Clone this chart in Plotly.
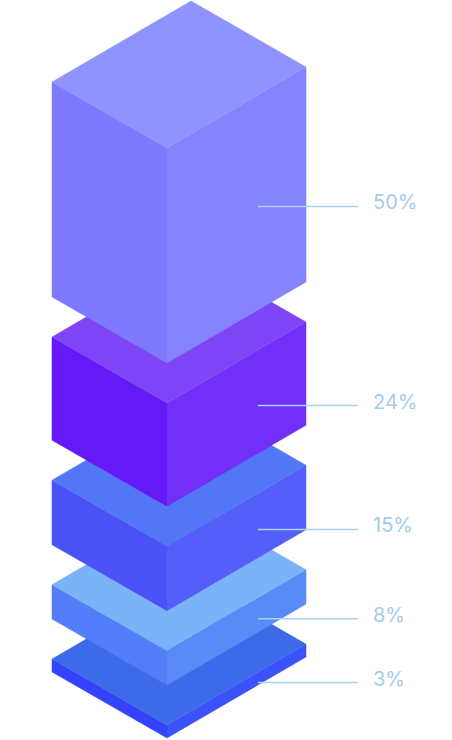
import plotly.graph_objects as go

# data, bottom block first
labels = ["3%", "8%", "15%", "24%", "50%"]
values = [3, 8, 15, 24, 50]

top_colors = ["#3d6ae9", "#7ab3f8", "#5276f6", "#7d45f6", "#8f93fe"]
left_colors = ["#3442fb", "#537df9", "#4a52f6", "#6419f6", "#7e79fe"]
right_colors = ["#3b51fa", "#5a8af6", "#535ff8", "#712ff8", "#8683fe"]

# isometric geometry (pixels)
W, H = 452, 740
x_front = 167
left_dx, left_dy = -115, -66
right_dx, right_dy = 139, -81
scale = 4.3      # px per percent
gap = 40
base = 738
line_x0, line_x1 = 258, 358
label_x = 371

fig = go.Figure()

b = base
for i in range(len(values)):
    h = values[i] * scale
    t = b - h
    xl, xr = x_front + left_dx, x_front + right_dx
    faces = [
        ([x_front, xl, xl, x_front], [b, b + left_dy, t + left_dy, t], left_colors[i]),
        ([x_front, xr, xr, x_front], [b, b + right_dy, t + right_dy, t], right_colors[i]),
        ([x_front, xl, x_front + left_dx + right_dx, xr],
         [t, t + left_dy, t + left_dy + right_dy, t + right_dy], top_colors[i]),
    ]
    for fx, fy, c in faces:
        fig.add_trace(go.Scatter(x=fx, y=fy, fill="toself", fillcolor=c, mode="lines",
                                 line=dict(color=c, width=0.5), hoverinfo="skip",
                                 showlegend=False))
    # label line at the middle of the right face
    ly = (b + t) / 2 + right_dy * (line_x0 - x_front) / right_dx + 4
    fig.add_shape(type="line", x0=line_x0, x1=line_x1, y0=ly, y1=ly,
                  line=dict(color="#a6d4ec", width=1.5), layer="above")
    fig.add_annotation(x=label_x, y=ly - 4, text=labels[i], showarrow=False,
                       xanchor="left", yanchor="middle",
                       font=dict(size=20, color="#a3cde7", family="Inter"))
    b = t - gap

fig.update_layout(
    width=W, height=H,
    margin=dict(l=0, r=0, t=0, b=0),
    paper_bgcolor="white", plot_bgcolor="white",
    xaxis=dict(range=[0, W], visible=False, fixedrange=True),
    yaxis=dict(range=[H, 0], visible=False, fixedrange=True),
)
fig.write_html("out.html", config={"displayModeBar": False},
               post_script="document.body.style.margin='0';document.body.style.overflow='hidden';")
